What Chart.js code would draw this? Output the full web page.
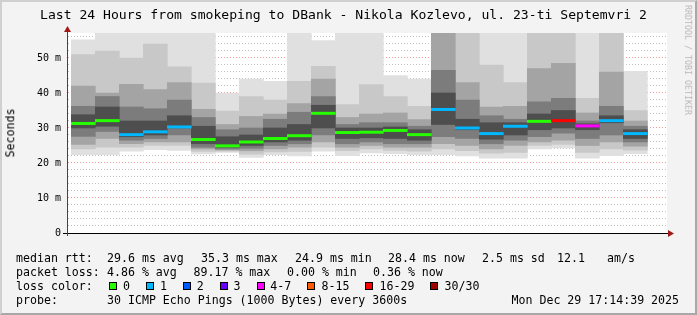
<!DOCTYPE html>
<html><head><meta charset="utf-8">
<script src="https://cdn.jsdelivr.net/npm/chart.js@4"></script>
<style>
html,body{margin:0;padding:0;}
body{width:697px;height:315px;overflow:hidden;background:#f3f3f3;position:relative;font-family:"DejaVu Sans Mono",monospace;}
#frame{position:absolute;left:0;top:0;width:697px;height:315px;box-sizing:border-box;border-top:2px solid #d0d0d0;border-left:2px solid #d0d0d0;border-bottom:2px solid #a8a8a8;border-right:2px solid #a8a8a8;pointer-events:none;z-index:5;}
canvas{position:absolute;left:0;top:0;}
.t{position:absolute;white-space:pre;color:#000;line-height:1;font-size:11.6px;}
#title{position:absolute;left:40px;top:8px;font-size:13.1px;line-height:1;white-space:pre;color:#000;}
#ytitle{position:absolute;left:10.5px;top:133px;font-size:11.6px;line-height:1;white-space:pre;transform:translate(-50%,-50%) rotate(-90deg);color:#000;}
#wm{position:absolute;left:688px;top:60px;font-size:8.3px;line-height:1;white-space:pre;transform:translate(-50%,-50%) rotate(90deg);color:#b8b8b8;}
.box{position:absolute;width:8px;height:8px;box-sizing:border-box;border:1px solid #000;}
</style>
</head><body>
<canvas id="c" width="697" height="315"></canvas>
<div id="frame"></div>
<div id="title">Last 24 Hours from smokeping to DBank - Nikola Kozlevo, ul. 23-ti Septemvri 2</div>
<div id="ytitle">Seconds</div>
<div id="wm">RRDTOOL / TOBI OETIKER</div>
<div id="legend"></div>
<script>
// ---- data (hours since Sunday 00:00; each bar = one hour slot) ----
const hourSlots = [17,18,19,20,21,22,23,24,25,26,27,28,29,30,31,32,33,34,35,36,37,38,39,40];
const median = [31.3,32.1,28.1,28.9,30.3,26.7,24.9,26.0,27.0,27.8,34.2,28.7,28.8,29.3,28.1,35.3,30.0,28.4,30.5,31.9,32.1,30.6,32.1,28.4];
const lossCount = [0,0,1,1,1,0,0,0,0,0,0,0,0,0,0,1,1,1,1,0,27,5,1,1];
const pingMin = [22.4,22.4,23.4,23.8,23.6,22.6,23.0,21.6,22.4,22.0,23.4,22.1,22.9,22.7,22.4,22.4,22.0,21.4,21.4,24.0,24.3,21.4,22.1,22.7];
const pingMax = [55.2,60,60,60,60,60,40.0,44.0,43.3,60,55.0,60,60,45.0,44.0,62,60,60,60,60,60,60,60,46.2];
const band2Lo = [24.0,24.5,24.5,25.0,25.0,23.3,23.4,22.5,23.2,23.3,24.5,23.5,24.0,23.6,23.4,24.0,23.5,22.8,23.0,25.0,25.3,23.0,24.0,23.7];
const band2Hi = [51.0,52.0,50.0,54.0,47.5,42.8,34.8,39.0,38.0,43.3,47.6,36.7,42.4,39.0,36.2,60,58,48,43,58,58,38.5,58,35.0];
const band3Lo = [25.3,27.0,25.5,26.0,26.0,24.0,23.7,23.5,24.0,24.5,26.0,24.5,25.0,24.5,24.5,25.5,25.0,24.0,25.0,26.0,26.5,25.0,26.0,24.8];
const band3Hi = [42.0,40.0,42.5,41.0,43.0,35.3,31.0,33.3,34.0,37.0,44.0,33.0,34.0,34.3,32.4,58,43,36,36.2,47,48.5,34.3,46,32.0];
const band4Lo = [27.6,29.0,26.5,27.0,28.0,24.5,24.0,24.2,25.0,25.5,28.0,25.5,26.0,25.5,25.5,27.5,27.0,25.5,26.5,27.5,28.5,27.0,28.0,26.0];
const band4Hi = [36.2,39.0,36.0,35.5,38.0,33.0,29.5,30.0,32.5,34.5,39.0,31.0,31.5,31.5,30.5,46.5,38,33.5,32.5,37.5,38.5,32,36.2,30.5];
const band5Lo = [30.0,30.5,27.5,28.0,30.0,25.5,24.5,25.0,26.0,26.5,30.0,27.0,27.2,27.0,26.5,31.0,29.5,26.8,28.0,29.5,30.0,29.5,31.5,27.0];
const band5Hi = [33.8,36.0,32.0,32.0,33.5,30.5,27.5,28.0,30.0,31.0,36.5,30.0,30.0,30.3,29.5,40,32.5,31.5,31.5,34,35,31.2,33.5,29.5];

const xTickHours = [20,24,28,32,36,40];
const xTickText = ['Sun 20:00','Mon 00:00','Mon 04:00','Mon 08:00','Mon 12:00','Mon 16:00'];
const yTickValues = [0,10,20,30,40,50];
const yTickText = ['0','10 m','20 m','30 m','40 m','50 m'];

const lossLabels = ['0','1','2','3','4-7','8-15','16-29','30/30'];
const lossColors = ['#26ff00','#00b8ff','#0059ff','#6a00ff','#ff00ff','#ff5a00','#ff0000','#a00000'];

const statLines = [
  [['median rtt:',16],['29.6 ms avg',107],['35.3 ms max',201],['24.9 ms min',295],['28.4 ms now',388],['2.5 ms sd',482],['12.1',557],['am/s',607]],
  [['packet loss:',16],['4.86 % avg',107],['89.17 % max',193.5],['0.00 % min',287],['0.36 % now',373]],
  [['loss color:',16]],
  [['probe:',16],['30 ICMP Echo Pings (1000 Bytes) every 3600s',107],['Mon Dec 29 17:14:39 2025',511.5]]
];
const lineTops = [253.1,267.2,281.2,294.9];
const boxLefts = [108.5,145.5,182.5,219.5,256.5,307,364.5,430];
const boxLabelLefts = [123,160,196.8,233.5,270.3,321.5,379.5,444.5];

// ---- legend (HTML text) ----
const lg = document.getElementById('legend');
statLines.forEach((line, li) => {
  line.forEach(([txt, x]) => {
    const s = document.createElement('div');
    s.className = 't'; s.textContent = txt;
    s.style.left = x + 'px'; s.style.top = lineTops[li] + 'px';
    lg.appendChild(s);
  });
});
lossLabels.forEach((lab, i) => {
  const b = document.createElement('div');
  b.className = 'box'; b.style.background = lossColors[i];
  b.style.left = boxLefts[i] + 'px'; b.style.top = '282px';
  lg.appendChild(b);
  const s = document.createElement('div');
  s.className = 't'; s.textContent = lab;
  s.style.left = boxLabelLefts[i] + 'px'; s.style.top = lineTops[2] + 'px';
  lg.appendChild(s);
});

function lossColor(n) {
  if (n <= 3) return lossColors[n];
  if (n <= 7) return lossColors[4];
  if (n <= 15) return lossColors[5];
  if (n <= 29) return lossColors[6];
  return lossColors[7];
}

function rangeSet(lo, hi, color) {
  return {
    type: 'bar',
    data: hourSlots.map((h, i) => ({x: h + 0.5, y: [lo[i], hi[i]]})),
    backgroundColor: color,
    borderWidth: 0,
    grouped: false,
    barPercentage: 1,
    categoryPercentage: 1,
    clip: 0
  };
}
const medSet = rangeSet(median.map(m => m - 0.33), median.map(m => m + 0.33), median.map((m, i) => lossColor(lossCount[i])));

const datasets = [
  medSet,
  rangeSet(band5Lo, band5Hi, '#4e4e4e'),
  rangeSet(band4Lo, band4Hi, '#7c7c7c'),
  rangeSet(band3Lo, band3Hi, '#a4a4a4'),
  rangeSet(band2Lo, band2Hi, '#c8c8c8'),
  rangeSet(pingMin, pingMax, '#e0e0e0')
];

const MAJOR = 'rgba(235,120,120,0.75)';
const MINOR = 'rgba(170,170,170,0.75)';

const plotBg = {
  id: 'plotBg',
  beforeDraw(chart) {
    const {ctx, chartArea: a} = chart;
    ctx.save(); ctx.fillStyle = '#ffffff';
    ctx.fillRect(a.left, a.top, a.right - a.left, a.bottom - a.top);
    ctx.restore();
  },
  afterDraw(chart) {
    const {ctx, chartArea: a} = chart;
    ctx.save();
    ctx.strokeStyle = '#000'; ctx.lineWidth = 1;
    ctx.beginPath();
    ctx.moveTo(a.left - 4, a.bottom + 0.5); ctx.lineTo(a.right + 3, a.bottom + 0.5);
    ctx.stroke();
    ctx.strokeStyle = '#444';
    ctx.beginPath();
    ctx.moveTo(a.left + 0.5, a.bottom + 3); ctx.lineTo(a.left + 0.5, a.top - 2);
    ctx.stroke();
    ctx.fillStyle = '#a01818';
    ctx.beginPath();
    ctx.moveTo(a.right + 1, a.bottom + 0.5 - 3.5);
    ctx.lineTo(a.right + 1, a.bottom + 0.5 + 3.5);
    ctx.lineTo(a.right + 7, a.bottom + 0.5);
    ctx.closePath(); ctx.fill();
    ctx.beginPath();
    ctx.moveTo(a.left + 0.5 - 3.5, a.top - 1);
    ctx.lineTo(a.left + 0.5 + 3.5, a.top - 1);
    ctx.lineTo(a.left + 0.5, a.top - 7);
    ctx.closePath(); ctx.fill();
    ctx.restore();
  }
};

new Chart(document.getElementById('c'), {
  type: 'bar',
  data: {datasets},
  options: {
    responsive: false,
    animation: false,
    devicePixelRatio: 1,
    layout: {padding: {left: 0, right: 30, top: 33, bottom: 0}},
    plugins: {legend: {display: false}, tooltip: {enabled: false}, title: {display: false}},
    scales: {
      x: {
        type: 'linear', min: 17.32, max: 41.32, z: 1,
        ticks: {
          stepSize: 1, includeBounds: false, autoSkip: false, maxRotation: 0, minRotation: 0,
          padding: 1, color: '#000', font: {family: 'DejaVu Sans Mono', size: 10},
          callback: v => { const k = xTickHours.indexOf(v); return k >= 0 ? xTickText[k] : ''; }
        },
        grid: {
          color: c => (c.tick && Math.round(c.tick.value) === c.tick.value) ? (c.tick.value % 2 === 0 ? MAJOR : MINOR) : 'rgba(0,0,0,0)',
          tickColor: c => (c.tick && Math.round(c.tick.value) === c.tick.value) ? (c.tick.value % 2 === 0 ? MAJOR : MINOR) : 'rgba(0,0,0,0)',
          lineWidth: 1, drawTicks: true, tickLength: 3
        },
        border: {display: true, color: '#000', width: 1, dash: [1, 2]},
        afterFit(s) { s.height = 82; }
      },
      y: {
        min: 0, max: 57.14, z: 1,
        ticks: {
          stepSize: 2, includeBounds: false, autoSkip: false, padding: 6,
          color: '#000', font: {family: 'DejaVu Sans Mono', size: 10},
          callback: v => { const k = yTickValues.indexOf(v); return k >= 0 ? yTickText[k] : ''; }
        },
        grid: {
          color: c => (c.tick && c.tick.value % 10 === 0) ? MAJOR : (c.tick && c.tick.value % 2 === 0 ? MINOR : 'rgba(0,0,0,0)'),
          lineWidth: 1, drawTicks: false
        },
        border: {display: true, color: '#444', width: 1, dash: [1, 2]},
        afterFit(s) { s.width = 67; }
      }
    }
  },
  plugins: [plotBg]
});
</script>
</body></html>
